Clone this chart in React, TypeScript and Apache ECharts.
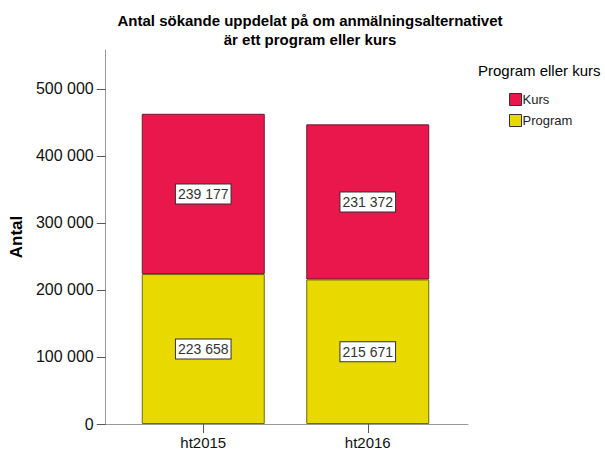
import React, { useEffect, useRef } from "react";
import * as echarts from "echarts";

const categories = ["ht2015", "ht2016"];
const programValues = [223658, 215671];
const kursValues = [239177, 231372];
const yTicks = [0, 100000, 200000, 300000, 400000, 500000];
const yMax = 558000;

const FONT = "'Liberation Sans', Arial, sans-serif";

const fmt = (v: number) => String(Math.round(v)).replace(/\B(?=(\d{3})+(?!\d))/g, " ");

export default function App() {
  const ref = useRef<HTMLDivElement>(null);
  useEffect(() => {
    if (!ref.current) return;
    const chart = echarts.init(ref.current, undefined, { renderer: "svg" });
    const labelStyle = {
      show: true,
      position: "inside" as const,
      formatter: (p: any) => fmt(p.value),
      color: "#333",
      fontFamily: FONT,
      fontSize: 14,
      backgroundColor: "#fff",
      borderColor: "#333",
      borderWidth: 1,
      padding: [3, 2, 2, 2],
    };
    chart.setOption({
      animation: false,
      textStyle: { fontFamily: FONT },
      title: {
        text: "Antal sökande uppdelat på om anmälningsalternativet\när ett program eller kurs",
        left: 305,
        textAlign: "center",
        top: 6,
        textStyle: { fontSize: 15, fontWeight: "bold", color: "#000", lineHeight: 19, fontFamily: FONT },
      },
      legend: {
        data: ["Kurs", "Program"],
        orient: "vertical",
        left: 509,
        top: 93,
        itemWidth: 12,
        itemHeight: 12,
        itemGap: 8,
        padding: 0,
        icon: "rect",
        itemStyle: { borderColor: "#333", borderWidth: 1 },
        textStyle: { fontSize: 13, color: "#222", padding: [0, 0, 0, -4], fontFamily: FONT },
      },
      graphic: [
        {
          type: "text",
          left: 478,
          top: 63,
          style: { text: "Program eller kurs", fontSize: 15, fill: "#000", fontFamily: FONT },
        },
      ],
      grid: [
        { left: 103, right: 137, top: 50, bottom: 32 },
        { left: 121, right: 155, top: 50, bottom: 32 },
      ],
      xAxis: [
        {
          gridIndex: 0,
          type: "value",
          min: 0,
          max: 1,
          splitLine: { show: false },
          axisLine: { show: true, onZero: false, lineStyle: { color: "#999", width: 1 } },
          axisTick: { show: false },
          axisLabel: { show: false },
        },
        {
          gridIndex: 1,
          type: "category",
          data: categories,
          axisLine: { show: false },
          axisTick: { show: true, alignWithLabel: true, length: 9, lineStyle: { color: "#555" } },
          axisLabel: { fontSize: 15, color: "#111", margin: 11, fontFamily: FONT },
        },
      ],
      yAxis: [
        {
          gridIndex: 0,
          type: "value",
          min: 0,
          max: yMax,
          name: "Antal",
          nameLocation: "middle",
          nameRotate: 90,
          nameGap: 72,
          nameTextStyle: { fontSize: 17, fontWeight: "bold", color: "#000", fontFamily: FONT },
          splitLine: { show: false },
          axisLine: { show: true, onZero: false, lineStyle: { color: "#999", width: 1 } },
          axisTick: { show: true, customValues: yTicks, length: 9, lineStyle: { color: "#555" } },
          axisLabel: {
            customValues: yTicks,
            formatter: (v: number) => fmt(v),
            fontSize: 16,
            color: "#111",
            margin: 12,
            fontFamily: FONT,
          },
        },
        {
          gridIndex: 1,
          type: "value",
          min: 0,
          max: yMax,
          show: false,
          splitLine: { show: false },
        },
      ],
      series: [
        {
          name: "Program",
          type: "bar",
          stack: "total",
          xAxisIndex: 1,
          yAxisIndex: 1,
          barWidth: 123,
          data: programValues,
          itemStyle: { color: "#E8D900", borderColor: "#6e6a10", borderWidth: 1 },
          label: labelStyle,
        },
        {
          name: "Kurs",
          type: "bar",
          stack: "total",
          xAxisIndex: 1,
          yAxisIndex: 1,
          barWidth: 123,
          data: kursValues,
          itemStyle: { color: "#E9174B", borderColor: "#6e1a30", borderWidth: 1 },
          label: labelStyle,
        },
      ],
    });
    return () => chart.dispose();
  }, []);
  return (
    <div
      ref={ref}
      style={{ position: "fixed", left: 0, top: 0, width: 605, height: 456, background: "#fff" }}
    />
  );
}
